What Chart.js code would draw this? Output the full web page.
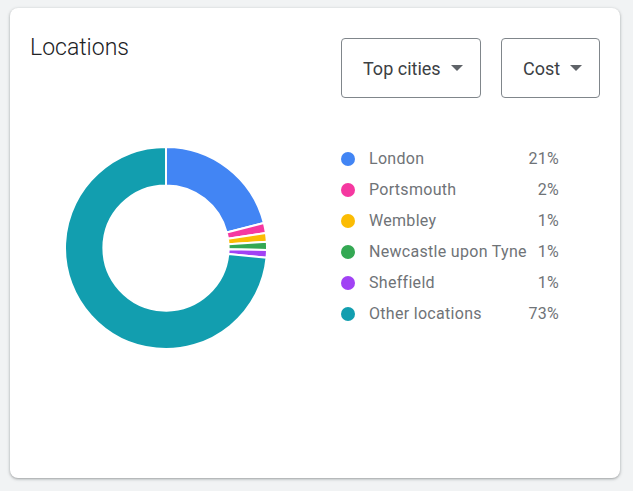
<!DOCTYPE html>
<html><head><meta charset="utf-8">
<script src="https://cdn.jsdelivr.net/npm/chart.js@4"></script>
<style>
html,body{margin:0;padding:0;background:#f1f3f4;width:633px;height:491px;overflow:hidden;font-family:Roboto,"Noto Sans",sans-serif;}
.card{position:absolute;left:10px;top:8px;width:610px;height:470px;background:#fff;border-radius:8px;box-shadow:0 1px 2px rgba(60,64,67,.3),0 1px 3px 1px rgba(60,64,67,.15);}
.title{position:absolute;left:30px;top:34px;font-size:23px;color:#202124;line-height:28px;font-weight:300;}
.btn{position:absolute;top:38px;border:1px solid #80868b;border-radius:4px;box-sizing:border-box;height:60px;font-size:18px;color:#3c4043;display:flex;align-items:center;}
.btn .tri{width:0;height:0;border-left:6px solid transparent;border-right:6px solid transparent;border-top:6px solid #5f6368;margin-left:10px;}
#legend{position:absolute;left:341px;top:143px;width:218px;}
.row{height:31px;display:flex;align-items:center;font-size:16px;color:#6f7377;letter-spacing:0.3px;position:relative;}
.dot{width:14px;height:14px;border-radius:50%;margin-right:14px;flex:none;}
.pct{position:absolute;right:0;}
#wrap{position:absolute;left:64px;top:146px;width:204px;height:204px;}
</style></head>
<body>
<div class="card"></div>
<div class="title">Locations</div>
<div class="btn" style="left:341px;width:140px;padding-left:21px;">Top cities<span class="tri"></span></div>
<div class="btn" style="left:501px;width:99px;padding-left:21px;">Cost<span class="tri"></span></div>
<div id="wrap"><canvas id="c" width="204" height="204"></canvas></div>
<div id="legend"></div>
<script>
const categories = ["London","Portsmouth","Wembley","Newcastle upon Tyne","Sheffield","Other locations"];
const shares = [21.0, 1.6, 1.4, 1.3, 1.2, 73.4];
const shareLabels = ["21%","2%","1%","1%","1%","73%"];
const colors = ["#4285f4","#f538a0","#fbbc04","#34a853","#a142f4","#129eaf"];

const legend = document.getElementById('legend');
categories.forEach((name,i)=>{
  const r=document.createElement('div');r.className='row';
  const d=document.createElement('span');d.className='dot';d.style.background=colors[i];
  const t=document.createElement('span');t.textContent=name;
  const p=document.createElement('span');p.className='pct';p.textContent=shareLabels[i];
  r.appendChild(d);r.appendChild(t);r.appendChild(p);legend.appendChild(r);
});

new Chart(document.getElementById('c'),{
  type:'doughnut',
  data:{labels:categories,datasets:[{data:shares,backgroundColor:colors,borderColor:'#ffffff',borderWidth:2}]},
  options:{responsive:false,animation:false,cutout:'62%',
    layout:{padding:0},
    plugins:{legend:{display:false},tooltip:{enabled:false}}}
});
</script>
</body></html>
